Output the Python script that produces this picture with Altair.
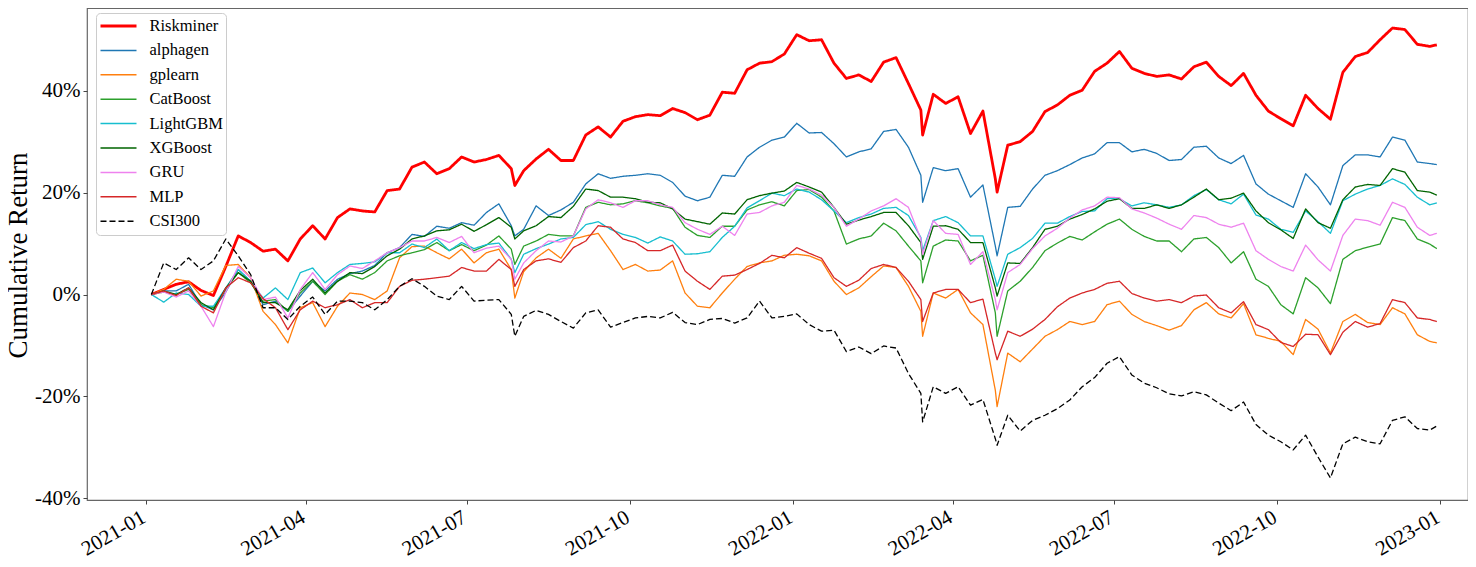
import altair as alt
import pandas as pd

dates = [
    "2021-01-04", "2021-01-11", "2021-01-18", "2021-01-25", "2021-02-01", "2021-02-08", "2021-02-15",
    "2021-02-22", "2021-03-01", "2021-03-08", "2021-03-15", "2021-03-22", "2021-03-29", "2021-04-05",
    "2021-04-12", "2021-04-19", "2021-04-26", "2021-05-03", "2021-05-10", "2021-05-17", "2021-05-24",
    "2021-05-31", "2021-06-07", "2021-06-14", "2021-06-21", "2021-06-28", "2021-07-05", "2021-07-12",
    "2021-07-19", "2021-07-26", "2021-07-28", "2021-08-02", "2021-08-09", "2021-08-16", "2021-08-23",
    "2021-08-30", "2021-09-06", "2021-09-13", "2021-09-20", "2021-09-27", "2021-10-04", "2021-10-11",
    "2021-10-18", "2021-10-25", "2021-11-01", "2021-11-08", "2021-11-15", "2021-11-22", "2021-11-29",
    "2021-12-06", "2021-12-13", "2021-12-20", "2021-12-27", "2022-01-03", "2022-01-10", "2022-01-17",
    "2022-01-24", "2022-01-31", "2022-02-07", "2022-02-14", "2022-02-21", "2022-02-28", "2022-03-07",
    "2022-03-14", "2022-03-15", "2022-03-21", "2022-03-28", "2022-04-04", "2022-04-11", "2022-04-18",
    "2022-04-25", "2022-04-26", "2022-05-02", "2022-05-09", "2022-05-16", "2022-05-23", "2022-05-30",
    "2022-06-06", "2022-06-13", "2022-06-20", "2022-06-27", "2022-07-04", "2022-07-11", "2022-07-18",
    "2022-07-25", "2022-08-01", "2022-08-08", "2022-08-15", "2022-08-22", "2022-08-29", "2022-09-05",
    "2022-09-12", "2022-09-19", "2022-09-26", "2022-10-03", "2022-10-10", "2022-10-17", "2022-10-24",
    "2022-10-31", "2022-11-07", "2022-11-14", "2022-11-21", "2022-11-28", "2022-12-05", "2022-12-12",
    "2022-12-19", "2022-12-26", "2022-12-30",
]

riskminer = [
    0.0, 1.0, 2.0, 2.5, 0.8, -0.2, 5.5, 11.5, 10.2, 8.5, 8.9, 6.6, 10.9,
    13.5, 10.9, 15.1, 16.8, 16.4, 16.2, 20.4, 20.7, 25.0, 26.0, 23.7, 24.7, 27.0,
    26.0, 26.5, 27.3, 24.7, 21.4,
    24.3, 26.6, 28.5, 26.3, 26.3, 31.3, 32.9, 30.9, 34.0,
    34.9, 35.3, 35.1, 36.5, 35.7, 34.3, 35.2, 39.7, 39.5, 44.1, 45.4, 45.7, 47.2,
    51.0, 49.8, 50.0, 45.4, 42.4, 43.1, 41.8, 45.6, 46.5, 41.4, 36.2, 31.3,
    39.3, 37.5, 38.8, 31.6, 36.0, 22.7, 20.1,
    29.3, 30.0, 32.0, 35.9, 37.2, 39.1, 40.1, 43.8, 45.4,
    47.7, 44.4, 43.4, 42.8, 43.1, 42.3, 44.7, 45.6, 42.8, 41.0, 43.4, 39.1, 36.0,
    34.5, 33.1, 39.1, 36.5, 34.4, 43.6, 46.7, 47.5, 50.0, 52.3, 52.0, 49.1, 48.7,
    49.0,
]

alphagen = [
    0.0, 0.7, 0.7, 2.0, -2.0, -3.0, 0.5, 4.9, 2.6, -2.0, -1.3, -3.3, -0.3,
    2.6, 0.7, 3.0, 4.1, 4.6, 5.7, 8.2, 9.2, 11.8, 11.4, 13.4, 13.0, 14.1,
    13.6, 16.1, 17.8, 13.5, 11.5,
    12.8, 17.4, 15.5, 16.6, 18.1, 21.7, 23.7, 22.8, 23.2,
    23.4, 23.7, 23.4, 22.0, 19.3, 18.4, 19.1, 23.4, 23.2, 27.0, 28.9, 30.3, 30.9,
    33.6, 31.7, 31.8, 29.6, 27.0, 28.0, 28.6, 32.0, 32.4, 28.9, 23.4, 18.1,
    24.9, 24.3, 24.7, 19.1, 21.5, 9.5, 7.6,
    17.1, 17.3, 20.7, 23.4, 24.3, 25.5, 26.8, 27.6, 29.8,
    29.8, 28.0, 28.5, 27.7, 26.3, 26.5, 28.9, 29.1, 26.8, 25.7, 27.3, 21.7, 19.7,
    18.4, 17.1, 23.7, 21.1, 17.6, 25.3, 27.4, 27.4, 27.0, 30.9, 30.3, 26.0, 25.7,
    25.5,
]

gplearn = [
    0.0, 1.0, 3.0, 2.6, -0.3, 0.7, 5.7, 5.9, 3.3, -3.3, -5.9, -9.5, -2.6,
    -1.6, -6.3, -2.3, 0.3, 0.0, -1.0, 0.7, 7.2, 9.4, 9.5, 8.2, 7.0, 8.9,
    6.2, 8.2, 8.9, 4.9, -0.7,
    4.5, 7.2, 8.9, 7.1, 10.9, 11.5, 12.0, 8.6, 4.9,
    5.9, 4.6, 4.8, 6.6, 0.3, -2.3, -2.6, 0.3, 3.0, 5.5, 6.2, 6.6, 7.7,
    7.9, 7.6, 6.6, 2.6, 0.0, 1.3, 3.5, 5.6, 5.3, 1.6, -3.3, -8.2,
    0.3, -0.7, 1.0, -3.6, -5.9, -18.8, -22.0,
    -11.5, -13.2, -10.7, -8.2, -6.9, -5.3, -5.9, -5.3, -2.0,
    -1.3, -3.9, -5.3, -6.1, -7.0, -6.1, -3.0, -1.6, -3.8, -4.6, -1.8, -7.9, -8.6,
    -9.2, -11.8, -4.9, -6.8, -11.5, -5.3, -3.9, -5.5, -5.9, -2.6, -3.8, -7.9, -9.2,
    -9.5,
]

catboost = [
    0.0, 0.5, 0.0, 1.0, -2.0, -2.6, 1.0, 4.3, 2.3, -1.3, -1.0, -3.3, 0.3,
    2.6, 0.0, 2.6, 3.9, 3.0, 4.3, 6.6, 7.6, 8.2, 8.8, 10.2, 8.6, 9.8,
    8.6, 9.7, 11.5, 8.9, 5.9,
    9.5, 10.5, 11.8, 11.5, 11.5, 17.1, 18.1, 17.6, 17.8,
    18.4, 18.0, 17.4, 16.9, 13.2, 11.6, 11.2, 13.4, 13.4, 16.6, 17.6, 18.2, 17.4,
    20.4, 20.6, 19.1, 16.4, 9.9, 10.9, 11.5, 14.0, 12.5, 9.5, 6.6, 2.3,
    9.5, 10.7, 10.5, 6.6, 7.7, -3.6, -8.2,
    0.7, 2.6, 5.3, 8.6, 10.1, 11.4, 10.7, 12.3, 13.8,
    14.8, 12.8, 11.4, 10.5, 10.5, 8.4, 10.9, 11.2, 9.2, 6.2, 8.4, 3.0, 1.6,
    -2.0, -3.8, 3.3, 1.3, -1.8, 6.9, 8.6, 9.3, 9.9, 15.1, 14.5, 10.9, 9.9,
    9.0,
]

lightgbm = [
    0.0, -1.5, 0.3, 0.0, -2.3, -2.3, 1.3, 4.9, 2.6, -0.7, 1.3, -1.0, 4.3,
    5.2, 2.3, 4.3, 5.9, 6.1, 6.4, 8.2, 8.2, 9.9, 9.2, 10.9, 8.6, 10.2,
    9.0, 9.8, 10.1, 6.9, 4.3,
    7.9, 9.0, 9.9, 10.9, 11.2, 13.7, 14.3, 12.8, 11.8,
    11.2, 10.1, 11.3, 10.5, 7.9, 8.0, 8.4, 11.2, 13.4, 17.0, 18.4, 19.9, 19.4,
    20.7, 20.1, 18.6, 16.4, 14.1, 15.1, 15.8, 16.9, 17.1, 15.5, 11.2, 8.6,
    14.5, 15.3, 14.1, 11.5, 11.5, 3.0, 1.6,
    7.9, 9.2, 11.0, 14.0, 14.0, 15.3, 16.3, 16.4, 18.8,
    18.8, 17.4, 18.0, 17.6, 17.1, 17.6, 19.4, 20.6, 18.6, 17.8, 19.7, 15.6, 14.8,
    12.8, 12.2, 16.4, 14.3, 12.0, 18.4, 19.7, 20.7, 21.4, 22.7, 21.6, 19.1, 17.6,
    18.0,
]

xgboost = [
    0.0, 0.7, 0.0, 1.3, -1.6, -3.0, 1.3, 4.3, 2.6, -1.6, -1.6, -3.0, 0.8,
    3.0, 0.3, 2.6, 4.3, 4.1, 5.5, 7.6, 8.9, 10.9, 11.5, 12.5, 12.7, 13.8,
    12.4, 13.7, 15.1, 13.2, 10.9,
    12.5, 13.5, 15.3, 15.1, 17.3, 20.7, 20.4, 19.1, 19.1,
    18.8, 18.1, 18.0, 16.8, 14.8, 14.3, 13.8, 16.0, 15.8, 18.6, 19.4, 19.9, 20.3,
    22.0, 21.1, 20.1, 17.1, 13.8, 14.6, 15.3, 16.1, 16.1, 13.5, 10.2, 6.9,
    13.4, 13.5, 12.8, 10.2, 10.2, 1.3, -0.3,
    6.2, 6.1, 9.2, 12.8, 13.4, 14.8, 15.7, 16.8, 18.3,
    18.8, 16.9, 16.9, 17.6, 16.9, 17.6, 19.1, 20.7, 18.6, 18.9, 19.9, 16.4, 14.1,
    12.7, 11.0, 16.8, 14.1, 13.0, 18.6, 21.1, 21.6, 21.4, 24.7, 24.0, 20.4, 20.1,
    19.5,
]

gru = [
    0.0, 0.5, -0.5, 0.7, -2.3, -6.3, 0.5, 5.5, 3.3, -1.0, -0.5, -4.6, 1.0,
    4.3, 1.0, 3.9, 5.6, 5.1, 6.6, 8.2, 9.2, 10.5, 10.5, 11.2, 10.2, 11.4,
    8.2, 9.1, 9.5, 6.9, 3.0,
    6.2, 8.6, 10.5, 10.3, 11.5, 16.8, 18.6, 18.0, 17.1,
    18.4, 18.4, 17.6, 17.1, 14.1, 12.8, 11.8, 13.4, 11.6, 15.8, 16.1, 17.4, 18.1,
    21.4, 20.7, 19.5, 17.1, 13.4, 14.8, 16.4, 17.4, 18.8, 17.1, 10.9, 7.9,
    14.5, 12.0, 11.8, 5.9, 8.4, -1.0, -3.0,
    4.3, 5.9, 9.0, 11.5, 13.0, 15.0, 16.6, 17.4, 19.1,
    19.0, 16.8, 16.0, 15.0, 13.8, 12.8, 15.5, 15.1, 13.8, 13.2, 14.0, 8.6, 6.9,
    5.5, 4.6, 9.7, 6.8, 4.6, 11.6, 14.8, 14.5, 13.6, 18.1, 17.1, 13.2, 11.6,
    12.0,
]

mlp = [
    0.0, 0.7, -0.2, 1.3, -2.3, -3.6, 1.3, 3.3, 2.3, -0.8, -2.6, -6.9, -3.0,
    -1.3, -2.6, -2.0, -1.0, -2.6, -1.6, -1.6, 1.6, 2.8, 3.0, 3.3, 3.6, 5.3,
    4.6, 4.6, 6.9, 4.9, 1.6,
    4.9, 6.6, 7.0, 6.3, 9.2, 10.5, 13.5, 13.2, 10.9,
    10.2, 8.6, 8.6, 9.7, 4.6, 2.6, 1.0, 3.6, 3.8, 4.9, 6.1, 7.7, 7.2,
    9.2, 8.1, 7.1, 3.3, 1.6, 2.8, 5.1, 5.9, 5.3, 2.6, -1.0, -5.3,
    0.3, 1.0, 1.0, -1.6, -0.9, -11.5, -12.8,
    -7.2, -8.2, -6.8, -4.9, -2.4, -0.7, 0.3, 1.0, 2.2,
    2.6, 0.2, -0.7, -1.3, -1.0, -1.6, -0.3, -0.1, -2.6, -3.6, -1.4, -5.9, -6.9,
    -9.4, -10.2, -7.8, -7.9, -11.8, -7.4, -5.3, -6.4, -5.7, -1.0, -1.6, -4.6, -4.9,
    -5.3,
]

csi300 = [
    0.0, 6.2, 4.9, 7.2, 4.9, 6.6, 10.9, 7.6, 3.9, -2.6, -2.6, -4.9, -2.3,
    -0.5, -3.9, -1.3, -1.3, -1.6, -3.0, -1.0, 1.6, 3.1, 1.6, -0.3, -1.0, 1.6,
    -1.3, -1.1, -1.0, -3.9, -8.2,
    -4.3, -3.1, -3.9, -5.3, -6.6, -3.6, -3.0, -6.4, -5.5,
    -4.6, -4.3, -4.6, -3.5, -5.5, -5.9, -4.9, -4.7, -5.6, -4.6, -1.3, -4.6, -4.3,
    -3.8, -5.9, -7.2, -7.0, -11.2, -10.3, -11.6, -10.1, -10.5, -15.5, -19.4, -25.0,
    -18.1, -19.4, -18.1, -21.7, -20.6, -28.3, -29.6,
    -23.7, -26.8, -24.7, -23.7, -22.4, -20.7, -18.1, -16.3, -13.5,
    -12.2, -15.8, -17.4, -18.3, -19.5, -19.9, -19.1, -19.7, -21.3, -22.8, -21.1, -25.5, -27.6,
    -28.9, -30.5, -27.6, -31.9, -36.0, -29.3, -28.0, -28.9, -29.3, -24.7, -24.0, -26.3, -26.6,
    -25.8,
]

names = ["Riskminer", "alphagen", "gplearn", "CatBoost", "LightGBM", "XGBoost", "GRU", "MLP", "CSI300"]
colors = ["#ff0000", "#1f77b4", "#ff7f0e", "#2ca02c", "#17becf", "#006400", "#ee82ee", "#d62728", "#000000"]
series_values = [riskminer, alphagen, gplearn, catboost, lightgbm, xgboost, gru, mlp, csi300]
y_ticks = [-40, -20, 0, 20, 40]
x_ticks = [(2021, 1), (2021, 4), (2021, 7), (2021, 10), (2022, 1), (2022, 4), (2022, 7), (2022, 10), (2023, 1)]

rows = []
for i, (name, vals) in enumerate(zip(names, series_values)):
    for d, v in zip(dates, vals):
        rows.append({"date": d, "series": name, "value": v, "order": i})
df = pd.DataFrame(rows)

FONT = "Liberation Serif"

legend = alt.Legend(
    title=None,
    orient="none",
    legendX=9,
    legendY=5,
    direction="vertical",
    symbolType="stroke",
    symbolSize=1296,
    symbolStrokeWidth=alt.ExprRef(expr="(datum.value === 'Riskminer' ? 3 : 1.5)"),
    symbolDash=alt.ExprRef(expr="(datum.value === 'CSI300' ? [5, 2.5] : [1, 0])"),
    symbolOffset=0.5,
    clipHeight=20,
    labelFont=FONT,
    labelFontSize=16.5,
    labelOffset=12,
    labelColor="black",
    fillColor="white",
    strokeColor="#cccccc",
    cornerRadius=4,
    padding=3,
    rowPadding=4.4,
)

chart = alt.Chart(df).mark_line(clip=True, strokeJoin="round").encode(
    x=alt.X(
        "date:T",
        scale=alt.Scale(
            type="utc",
            domain=[
                alt.DateTime(year=2020, month=11, date=28, hours=17, utc=True),
                alt.DateTime(year=2023, month=1, date=16, hours=14, utc=True),
            ],
        ),
        axis=alt.Axis(
            values=[alt.DateTime(year=y, month=m, date=1, utc=True) for (y, m) in x_ticks],
            format="%Y-%m",
            labelAngle=-30,
            labelAlign="right",
            labelBaseline="top",
            labelFont=FONT,
            labelFontSize=21,
            labelColor="black",
            labelPadding=2,
            labelOffset=-8,
            tickSize=4,
            tickColor="#444444",
            domain=False,
            grid=False,
            title=None,
            labelOverlap=False,
        ),
    ),
    y=alt.Y(
        "value:Q",
        scale=alt.Scale(domain=[-40.33, 56.23], nice=False, zero=False),
        axis=alt.Axis(
            values=y_ticks,
            labelExpr="datum.value + '%'",
            labelFont=FONT,
            labelFontSize=21,
            labelColor="black",
            labelPadding=3,
            tickSize=4,
            tickColor="#444444",
            domain=False,
            grid=False,
            title="Cumulative Return",
            titleFont=FONT,
            titleFontSize=27,
            titleFontWeight="normal",
            titleColor="black",
            titleAngle=270,
            titleAlign="center",
            titleBaseline="alphabetic",
            titleX=-61,
            titleY=247,
        ),
    ),
    color=alt.Color("series:N", scale=alt.Scale(domain=names, range=colors), legend=legend),
    strokeDash=alt.StrokeDash(
        "series:N",
        scale=alt.Scale(domain=names, range=[[1, 0]] * 8 + [[6, 3]]),
        legend=None,
    ),
    strokeWidth=alt.condition(alt.datum.series == "Riskminer", alt.value(2.8), alt.value(1.3)),
    order=alt.Order("order:Q"),
).properties(
    width=1381,
    height=492,
    autosize=alt.AutoSizeParams(type="none"),
    padding={"left": 79, "top": 0, "right": 0, "bottom": 59},
).configure(
    font=FONT,
).configure_view(
    stroke="#666666",
    strokeWidth=1.2,
)

chart.save("out.html", embed_options={"renderer": "svg", "actions": False})
